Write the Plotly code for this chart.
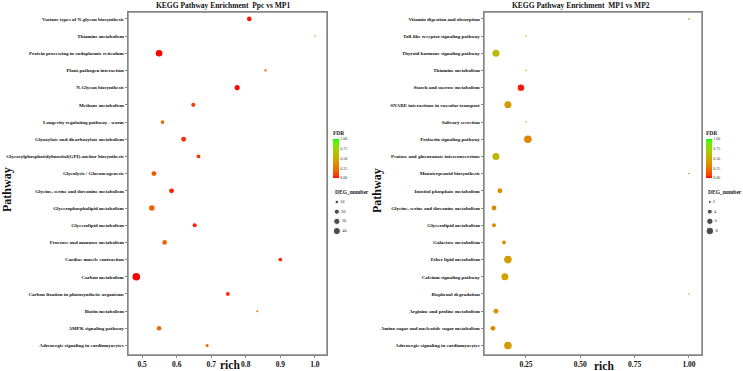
import numpy as np
import plotly.graph_objects as go

W, H = 743, 371
SERIF = "Liberation Serif"

# ---------------- data (top-to-bottom as displayed) ----------------
left_pathways = [
    "Various types of N-glycan biosynthesis",
    "Thiamine metabolism",
    "Protein processing in endoplasmic reticulum",
    "Plant-pathogen interaction",
    "N-Glycan biosynthesis",
    "Methane metabolism",
    "Longevity regulating pathway - worm",
    "Glyoxylate and dicarboxylate metabolism",
    "Glycosylphosphatidylinositol(GPI)-anchor biosynthesis",
    "Glycolysis / Gluconeogenesis",
    "Glycine, serine and threonine metabolism",
    "Glycerophospholipid metabolism",
    "Glycerolipid metabolism",
    "Fructose and mannose metabolism",
    "Cardiac muscle contraction",
    "Carbon metabolism",
    "Carbon fixation in photosynthetic organisms",
    "Biotin metabolism",
    "AMPK signaling pathway",
    "Adrenergic signaling in cardiomyocytes",
]
left_rich = [0.81, 1.0, 0.549, 0.857, 0.775, 0.648, 0.559, 0.62, 0.663, 0.534,
             0.585, 0.528, 0.652, 0.565, 0.90, 0.483, 0.748, 0.833, 0.549, 0.688]
left_fdr = [0.02, 0.30, 0.00, 0.15, 0.01, 0.07, 0.20, 0.04, 0.05, 0.13,
            0.03, 0.16, 0.03, 0.16, 0.04, 0.00, 0.03, 0.25, 0.18, 0.18]
left_deg = [16, 2, 34, 4, 20, 13, 11, 18, 11, 18,
            18, 24, 13, 16, 11, 45, 11, 3, 16, 7]
left_size_breaks = [10, 20, 30, 40]

right_pathways = [
    "Vitamin digestion and absorption",
    "Toll-like receptor signaling pathway",
    "Thyroid hormone signaling pathway",
    "Thiamine metabolism",
    "Starch and sucrose metabolism",
    "SNARE interactions in vascular transport",
    "Salivary secretion",
    "Prolactin signaling pathway",
    "Pentose and glucuronate interconversions",
    "Monoterpenoid biosynthesis",
    "Inositol phosphate metabolism",
    "Glycine, serine and threonine metabolism",
    "Glycerolipid metabolism",
    "Galactose metabolism",
    "Ether lipid metabolism",
    "Calcium signaling pathway",
    "Bisphenol degradation",
    "Arginine and proline metabolism",
    "Amino sugar and nucleotide sugar metabolism",
    "Adrenergic signaling in cardiomyocytes",
]
right_rich = [1.0, 0.25, 0.112, 0.25, 0.227, 0.167, 0.25, 0.259, 0.112, 1.0,
              0.13, 0.103, 0.103, 0.149, 0.167, 0.153, 1.0, 0.112, 0.098, 0.167]
right_fdr = [0.35, 0.60, 0.58, 0.60, 0.02, 0.40, 0.60, 0.32, 0.58, 0.35,
             0.35, 0.33, 0.35, 0.35, 0.42, 0.45, 0.35, 0.35, 0.33, 0.42]
right_deg = [1, 1, 7, 1, 6, 7, 1, 8, 7, 1,
             4, 4, 3, 3, 8, 7, 1, 4, 4, 8]
right_size_breaks = [2, 4, 6, 8]

left_x_ticks = [0.5, 0.6, 0.7, 0.8, 0.9, 1.0]
left_x_ticktext = ["0.5", "0.6", "0.7", "0.8", "0.9", "1.0"]
right_x_ticks = [0.25, 0.50, 0.75, 1.00]
right_x_ticktext = ["0.25", "0.50", "0.75", "1.00"]
fdr_ticks = [0.0, 0.25, 0.5, 0.75, 1.0]
fdr_ticktext = ["0.00", "0.25", "0.50", "0.75", "1.00"]


# ---------------- colour scale: red -> green interpolated in CIELAB ----------------
def _srgb_to_lin(c):
    c = c / 255.0
    return np.where(c <= 0.04045, c / 12.92, ((c + 0.055) / 1.055) ** 2.4)


def _lin_to_srgb(c):
    c = np.clip(c, 0, 1)
    return np.where(c <= 0.0031308, 12.92 * c, 1.055 * c ** (1 / 2.4) - 0.055) * 255


M = np.array([[0.4124, 0.3576, 0.1805], [0.2126, 0.7152, 0.0722], [0.0193, 0.1192, 0.9505]])
Minv = np.linalg.inv(M)
WHITE = np.array([0.95047, 1.0, 1.08883])


def rgb_to_lab(rgb):
    xyz = M @ _srgb_to_lin(np.array(rgb, float)) / WHITE
    f = np.where(xyz > 0.008856, np.cbrt(xyz), 7.787 * xyz + 16 / 116)
    return np.array([116 * f[1] - 16, 500 * (f[0] - f[1]), 200 * (f[1] - f[2])])


def lab_to_rgb(lab):
    fy = (lab[0] + 16) / 116
    fx = fy + lab[1] / 500
    fz = fy - lab[2] / 200
    f = np.array([fx, fy, fz])
    xyz = np.where(f ** 3 > 0.008856, f ** 3, (f - 16 / 116) / 7.787) * WHITE
    return _lin_to_srgb(Minv @ xyz)


lab_lo, lab_hi = rgb_to_lab([255, 0, 0]), rgb_to_lab([0, 255, 0])
colorscale = []
for t in np.linspace(0, 1, 21):
    r, g, b = lab_to_rgb(lab_lo + (lab_hi - lab_lo) * t)
    colorscale.append([float(t), f"rgb({int(round(r))},{int(round(g))},{int(round(b))})"])


# ---------------- size scale (area scaling like ggplot) ----------------
def size_scale(vals, lo, hi, dmin=1.6, dmax=7.6):
    v = np.sqrt(np.array(vals, float))
    return list(dmin + (dmax - dmin) * (v - np.sqrt(lo)) / (np.sqrt(hi) - np.sqrt(lo)))


l_lo, l_hi = min(left_deg), max(left_deg)
r_lo, r_hi = min(right_deg), max(right_deg)

fig = go.Figure()
fig.add_trace(go.Scatter(
    x=left_rich, y=left_pathways, mode="markers", xaxis="x", yaxis="y", showlegend=False,
    marker=dict(size=size_scale(left_deg, l_lo, l_hi), color=left_fdr,
                coloraxis="coloraxis", line=dict(width=0), opacity=1)))
fig.add_trace(go.Scatter(
    x=right_rich, y=right_pathways, mode="markers", xaxis="x2", yaxis="y2", showlegend=False,
    marker=dict(size=size_scale(right_deg, r_lo, r_hi), color=right_fdr,
                coloraxis="coloraxis2", line=dict(width=0), opacity=1)))

# size legends
legend_font = dict(family=SERIF, size=4.5, color="#333333")
fig.add_trace(go.Scatter(
    x=[0.12] * len(left_size_breaks), y=left_size_breaks, mode="markers+text",
    text=[str(v) for v in left_size_breaks], textposition="middle right",
    textfont=legend_font, xaxis="x3", yaxis="y3", showlegend=False, hoverinfo="skip",
    marker=dict(size=size_scale(left_size_breaks, l_lo, l_hi), color="black")))
fig.add_trace(go.Scatter(
    x=[0.12] * len(right_size_breaks), y=right_size_breaks, mode="markers+text",
    text=[str(v) for v in right_size_breaks], textposition="middle right",
    textfont=legend_font, xaxis="x4", yaxis="y4", showlegend=False, hoverinfo="skip",
    marker=dict(size=size_scale(right_size_breaks, r_lo, r_hi), color="black")))


def px_x(p):
    return p / W


def px_y(p):
    return 1 - p / H


LINE = "#858585"
frame = dict(showline=True, mirror=True, linecolor=LINE, linewidth=1.4,
             ticks="outside", ticklen=2, tickcolor=LINE, tickwidth=0.8,
             showgrid=False, zeroline=False)
ytickfont = dict(family=SERIF, size=5, color="#111111", weight="bold")
xtickfont = dict(family=SERIF, size=7.5, color="#111111", weight="bold")
ydom = [px_y(355), px_y(12)]
n = len(left_pathways)

colorbar_common = dict(thickness=6, thicknessmode="pixels", len=50, lenmode="pixels",
                       yanchor="top", y=px_y(128), xanchor="left", xpad=0, ypad=0,
                       outlinewidth=0, ticks="", tickvals=fdr_ticks, ticktext=fdr_ticktext,
                       tickfont=dict(family=SERIF, size=4, color="#333333"),
                       title=dict(text="FDR", side="top",
                                  font=dict(family=SERIF, size=5.5, color="#222222", weight="bold")))

fig.update_layout(
    width=W, height=H, margin=dict(l=0, r=0, t=0, b=0),
    paper_bgcolor="white", plot_bgcolor="white",
    xaxis=dict(domain=[px_x(128), px_x(327)], range=[0.459, 1.035], anchor="y",
               tickvals=left_x_ticks, ticktext=left_x_ticktext, tickfont=xtickfont, **frame),
    yaxis=dict(domain=ydom, type="category", categoryarray=left_pathways[::-1],
               range=[-0.55, n - 1 + 0.4], anchor="x", tickfont=ytickfont, **frame),
    xaxis2=dict(domain=[px_x(484), px_x(702)], range=[0.057, 1.06], anchor="y2",
                tickvals=right_x_ticks, ticktext=right_x_ticktext, tickfont=xtickfont, **frame),
    yaxis2=dict(domain=ydom, type="category", categoryarray=right_pathways[::-1],
                range=[-0.55, n - 1 + 0.4], anchor="x2", tickfont=ytickfont, **frame),
    xaxis3=dict(domain=[px_x(333), px_x(365)], range=[0, 1], anchor="y3", visible=False),
    yaxis3=dict(domain=[px_y(238), px_y(197)], range=[47.2, 4.8], anchor="x3", visible=False),
    xaxis4=dict(domain=[px_x(706), px_x(738)], range=[0, 1], anchor="y4", visible=False),
    yaxis4=dict(domain=[px_y(238), px_y(197)], range=[9.45, 0.965], anchor="x4", visible=False),
    coloraxis=dict(cmin=0, cmax=1, colorscale=colorscale,
                   colorbar=dict(x=px_x(333), **colorbar_common)),
    coloraxis2=dict(cmin=0, cmax=1, colorscale=colorscale,
                    colorbar=dict(x=px_x(706), **colorbar_common)),
)

# panel frames
for xr, yr in (("x domain", "y domain"), ("x2 domain", "y2 domain")):
    fig.add_shape(type="rect", xref=xr, yref=yr, x0=0, x1=1, y0=0, y1=1,
                  line=dict(color=LINE, width=1.4), fillcolor="rgba(0,0,0,0)", layer="above")

title_font = dict(family=SERIF, size=7.5, color="#111111", weight="bold")
big_font = dict(family=SERIF, size=12, color="#111111", weight="bold")
rich_font = dict(family=SERIF, size=11.5, color="#111111", weight="bold")
deg_font = dict(family=SERIF, size=5.5, color="#222222", weight="bold")
ann = [
    dict(x=px_x(223), y=px_y(5), text="KEGG Pathway Enrichment\u00a0\u00a0Ppc vs MP1", font=title_font),
    dict(x=px_x(581), y=px_y(5), text="KEGG Pathway Enrichment\u00a0\u00a0MP1 vs MP2", font=title_font),
    dict(x=px_x(7), y=px_y(190), text="Pathway", textangle=-90, font=big_font),
    dict(x=px_x(377), y=px_y(190), text="Pathway", textangle=-90, font=big_font),
    dict(x=px_x(230), y=px_y(365), text="rich", font=rich_font),
    dict(x=px_x(604), y=px_y(366), text="rich", font=rich_font),
    dict(x=px_x(333), y=px_y(192), text="DEG_number", font=deg_font, xanchor="left"),
    dict(x=px_x(706), y=px_y(192), text="DEG_number", font=deg_font, xanchor="left"),
]
for a in ann:
    a.setdefault("xanchor", "center")
    fig.add_annotation(xref="paper", yref="paper", showarrow=False, yanchor="middle", **a)

fig.write_html("out.html", config={"displayModeBar": False},
               post_script="document.body.style.margin='0';document.body.style.overflow='hidden';")
